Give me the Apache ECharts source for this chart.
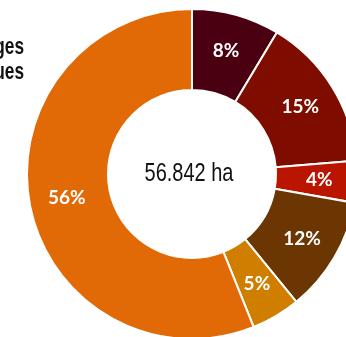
<!DOCTYPE html>
<html>
<head>
<meta charset="utf-8">
<script src="https://cdn.jsdelivr.net/npm/echarts@6/dist/echarts.min.js"></script>
<style>
html,body{margin:0;padding:0;background:#fff;}
#c{width:346px;height:337px;}
</style>
</head>
<body>
<div id="c"></div>
<script>
const shares = [8.6, 15.1, 4.1, 11.3, 4.8, 56.1];
const shareLabels = ['8%', '15%', '4%', '12%', '5%', '56%'];
const colors = ['#4b0011', '#7e0d00', '#ba1500', '#6b3602', '#d07e00', '#e26a06'];
const legendFragments = ['ges', 'ues'];
const totalText = '56.842 ha';

const chart = echarts.init(document.getElementById('c'), null, {renderer: 'canvas'});
chart.setOption({
  animation: false,
  backgroundColor: '#ffffff',
  graphic: [
    {type: 'text', x: 24, y: 47, scaleX: 0.72, style: {text: legendFragments[0], align: 'right', verticalAlign: 'middle', fontFamily: "'Liberation Sans', Arial, sans-serif", fontWeight: 'bold', fontSize: 24, fill: '#111'}},
    {type: 'text', x: 24, y: 72, scaleX: 0.72, style: {text: legendFragments[1], align: 'right', verticalAlign: 'middle', fontFamily: "'Liberation Sans', Arial, sans-serif", fontWeight: 'bold', fontSize: 24, fill: '#111'}},
    {type: 'text', x: 189, y: 174, scaleX: 0.8, style: {text: totalText, align: 'center', verticalAlign: 'middle', fontFamily: "'Liberation Sans', Arial, sans-serif", fontSize: 25, fill: '#111'}}
  ],
  series: [{
    type: 'pie',
    center: [192, 174],
    radius: [84, 165],
    startAngle: 90,
    clockwise: true,
    avoidLabelOverlap: false,
    itemStyle: {borderColor: '#ffffff', borderWidth: 2},
    label: {
      show: true,
      position: 'inside',
      color: '#ffffff',
      fontFamily: 'Lato, "Open Sans", sans-serif',
      fontWeight: 'bold',
      fontSize: 19,
      formatter: p => shareLabels[p.dataIndex]
    },
    labelLine: {show: false},
    emphasis: {disabled: true},
    data: shares.map((v, i) => ({value: v, name: shareLabels[i], itemStyle: {color: colors[i]}}))
  }]
});
</script>
</body>
</html>
